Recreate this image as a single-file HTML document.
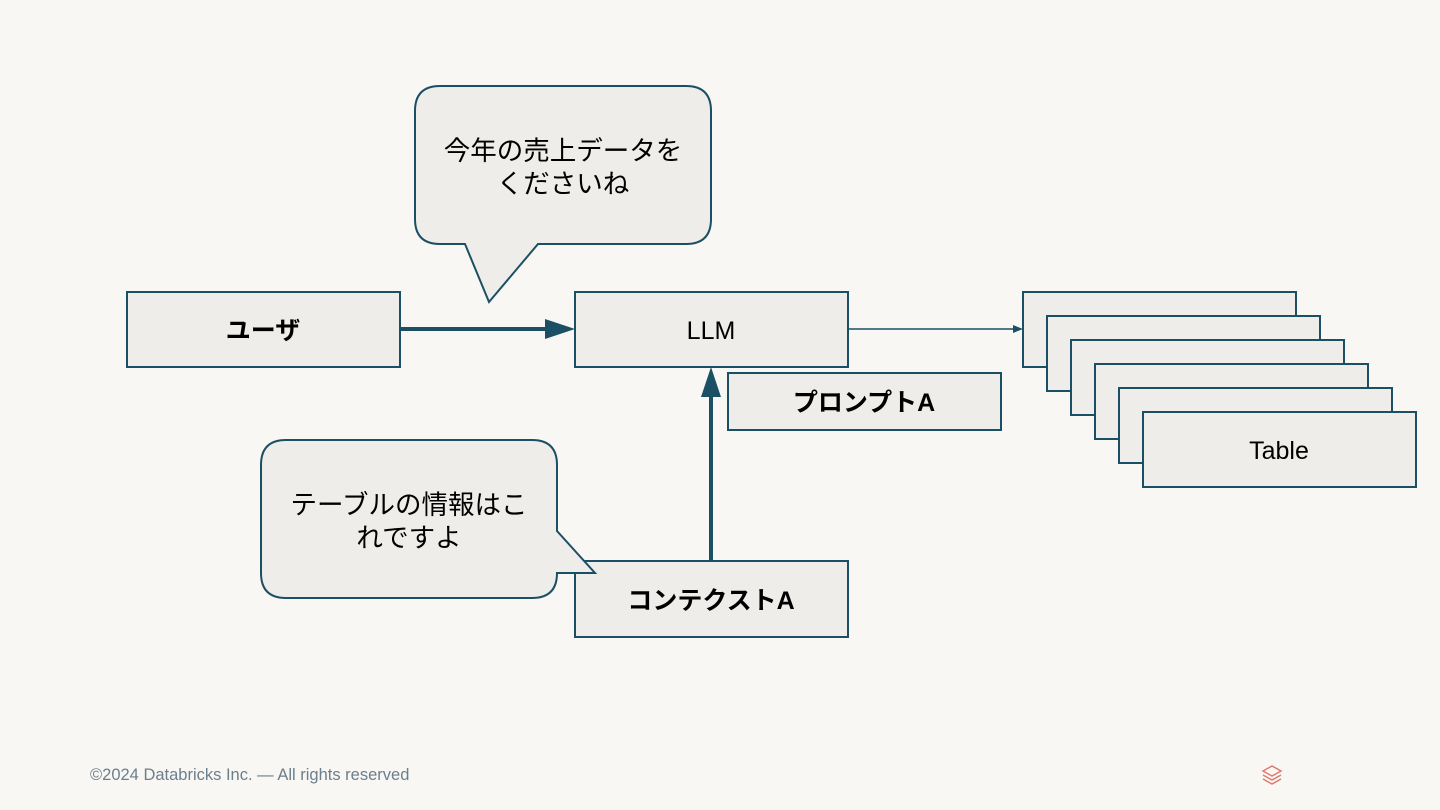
<!DOCTYPE html>
<html><head><meta charset="utf-8"><style>
html,body{margin:0;padding:0;background:#f8f7f4;}
svg{display:block;}
text{font-family:"Liberation Sans","Noto Sans CJK JP",sans-serif;}
</style></head><body>
<svg width="1440" height="810" viewBox="0 0 1440 810" xmlns="http://www.w3.org/2000/svg">
<rect width="1440" height="810" fill="#f8f7f4"/>
<g fill="#efedea" stroke="#1b4f63" stroke-width="2">
<rect x="127" y="292" width="273" height="75"/>
<rect x="575" y="292" width="273" height="75"/>
<rect x="728" y="373" width="273" height="57"/>
<rect x="575" y="561" width="273" height="76"/>
<rect x="1023" y="292" width="273" height="75"/>
<rect x="1047" y="316" width="273" height="75"/>
<rect x="1071" y="340" width="273" height="75"/>
<rect x="1095" y="364" width="273" height="75"/>
<rect x="1119" y="388" width="273" height="75"/>
<rect x="1143" y="412" width="273" height="75"/>
<path d="M440,86 H686 Q711,86 711,111 V219 Q711,244 686,244 H538 L489,302 L465,244 H440 Q415,244 415,219 V111 Q415,86 440,86 Z"/>
<path d="M286,440 H532 Q557,440 557,465 V531 L595,573 H557 Q557,598 532,598 H286 Q261,598 261,573 V465 Q261,440 286,440 Z"/>
</g>
<g fill="#1b4f63" stroke="#1b4f63">
<line x1="401" y1="329" x2="548" y2="329" stroke-width="4"/>
<polygon points="545,319 575,329 545,339" stroke="none"/>
<line x1="711" y1="561" x2="711" y2="395" stroke-width="4"/>
<polygon points="701,397 711,367 721,397" stroke="none"/>
<line x1="849" y1="329" x2="1015" y2="329" stroke-width="1.5"/>
<polygon points="1013,325 1023,329 1013,333" stroke="none"/>
</g>
<g font-size="26.5" text-anchor="middle" fill="#000">
<text x="563" y="160">今年の売上データを</text>
<text x="563" y="193">くださいね</text>
<text x="409" y="514">テーブルの情報はこ</text>
<text x="409" y="547">れですよ</text>
<text x="263" y="339" font-weight="bold" font-size="25">ユーザ</text>
<text x="711" y="339" font-size="25">LLM</text>
<text x="864" y="411" font-weight="bold" font-size="25">プロンプトA</text>
<text x="711" y="609" font-weight="bold" font-size="25">コンテクストA</text>
<text x="1279" y="459" font-size="25">Table</text>
</g>
<text x="90" y="780" font-size="16.5" fill="#6b7f8c">©2024 Databricks Inc. — All rights reserved</text>
<g fill="none" stroke="#e07a6e" stroke-width="1.5">
<path d="M1263,771 L1272,766 L1281,771 L1272,776 Z"/>
<path d="M1263,775 L1272,780 L1281,775"/>
<path d="M1263,779 L1272,784 L1281,779"/>
</g>
</svg>
</body></html>
